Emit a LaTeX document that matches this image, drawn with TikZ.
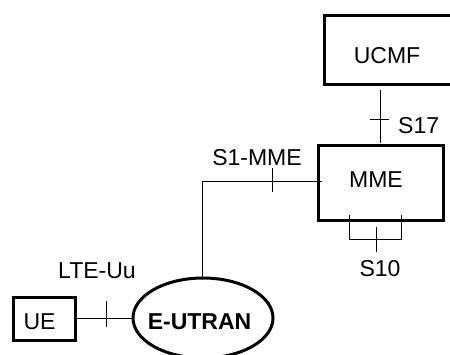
\documentclass[tikz,border=0pt]{standalone}
\usepackage{fontspec}
\setmainfont{Liberation Sans}
\usetikzlibrary{shapes.geometric}
\begin{document}
\begin{tikzpicture}[x=1pt,y=-1pt,
  box/.style={draw,line width=3pt,inner sep=0pt},
  conn/.style={line width=1pt},
  lbl/.style={inner sep=0pt,font=\fontsize{23}{27}\selectfont}]
\useasboundingbox (0,0) rectangle (450,354);
\clip (0,0) rectangle (450,354);
% boxes
\draw[line width=3pt] (324.5,15.5) rectangle (470,84.5);
\coordinate (ucmfb) at (380,90);
\node[lbl] (ucmf) at (387,56) {UCMF};
\draw[line width=3.2pt] (318.5,145.5) rectangle (443.5,220.5);
\node[lbl] (mme) at (376,179.5) {MME};
\coordinate (mmel) at (322,181);
\coordinate (mmet) at (380,143);
\draw[line width=3pt] (13.5,297.5) rectangle (75.5,340.5);
\node[lbl] (ue) at (39.5,321.5) {UE};
\coordinate (uer) at (77,318);
\node[draw,ellipse,line width=3pt,minimum width=140pt,minimum height=80pt,inner sep=0pt] (eutran) at (203,318) {};
\node[lbl,font=\fontsize{23}{27}\selectfont\bfseries] (eut) at (199.5,321.5) {E-UTRAN};
% S17
\draw[conn] (ucmfb) -- (mmet);
\coordinate (t17a) at (370,119); \coordinate (t17b) at (389,119);
\draw[conn] (t17a) -- (t17b);
\node[lbl,anchor=west] (s17) at (398,125.5) {S17};
% S1-MME
\coordinate (corner) at (202,181);
\coordinate (eutop) at (202,278);
\draw[conn] (mmel) -- (corner) -- (eutop);
\coordinate (t1a) at (272,168); \coordinate (t1b) at (272,192);
\draw[conn] (t1a) -- (t1b);
\node[lbl] (s1) at (257,158) {S1-MME};
% S10
\coordinate (b1) at (349,215); \coordinate (b2) at (349,239);
\coordinate (b3) at (401,239); \coordinate (b4) at (401,215);
\draw[conn] (b1) -- (b2) -- (b3) -- (b4);
\coordinate (t10a) at (376,227); \coordinate (t10b) at (376,252);
\draw[conn] (t10a) -- (t10b);
\node[lbl] (s10) at (380,268.5) {S10};
% LTE-Uu
\coordinate (eul) at (133,318);
\draw[conn] (uer) -- (eul);
\coordinate (tua) at (106,301); \coordinate (tub) at (106,327);
\draw[conn] (tua) -- (tub);
\node[lbl] (lte) at (97,271) {LTE-Uu};
\end{tikzpicture}
\end{document}
